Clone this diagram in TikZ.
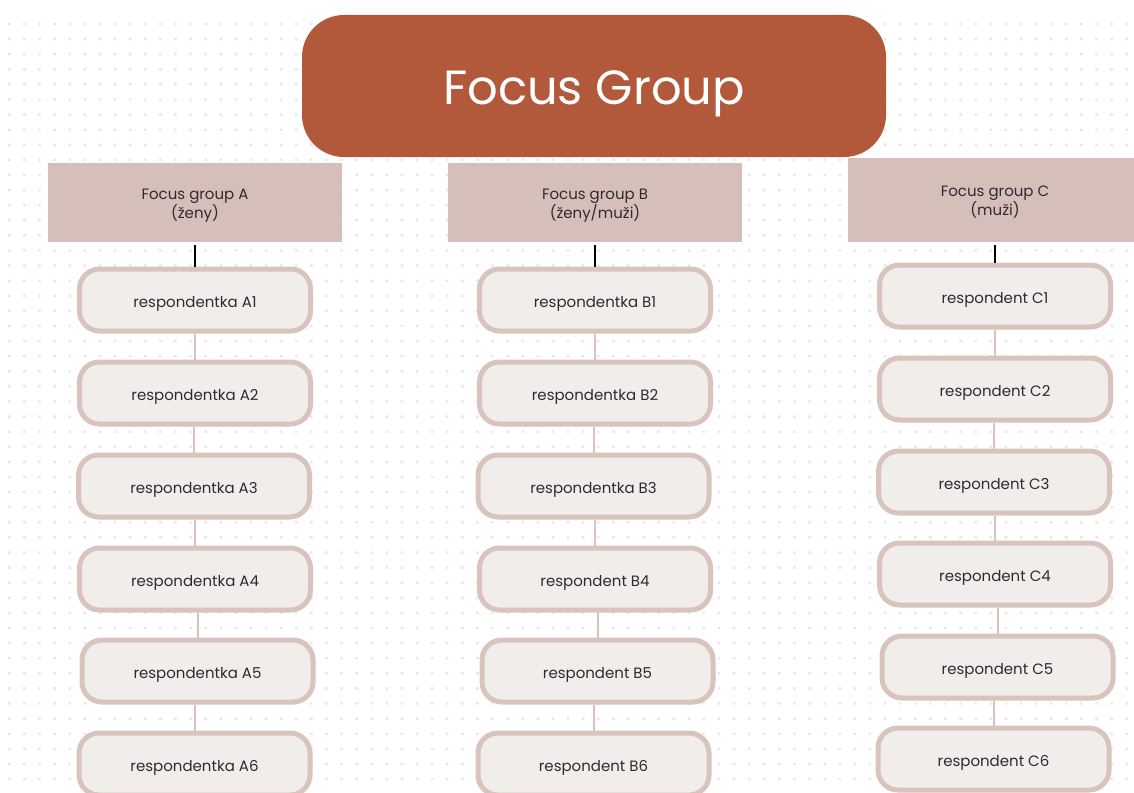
\documentclass[tikz,border=0pt]{standalone}
\usepackage{fontspec}
\setmainfont{Poppins}
\definecolor{titlefill}{HTML}{B2593C}
\definecolor{grpfill}{HTML}{D5BFB8}
\definecolor{respfill}{HTML}{F1EDEA}
\definecolor{respline}{HTML}{D8C4BC}
\definecolor{dotgray}{HTML}{E6E6EC}
\definecolor{ink}{HTML}{2E2A33}
% two-line header text; first baseline sits 3.5pt above the box centre
\newcommand{\grplabel}[2]{\raisebox{0pt}[0pt][7pt]{\begin{tabular}[t]{@{}c@{}}#1\\#2\end{tabular}}}
% one-line respondent text; baseline 7pt below the box centre
\newcommand{\resplabel}[1]{\raisebox{0pt}[14pt][0pt]{#1}}
\begin{document}
\begin{tikzpicture}[x=1pt,y=-1pt,
  titlebox/.style={fill=titlefill, text=white, rounded corners=42pt,
    minimum width=584pt, minimum height=142pt, inner sep=0pt,
    font=\fontsize{48}{56}\selectfont},
  grpbox/.style={fill=grpfill, text=ink, align=center,
    minimum width=294pt, minimum height=79pt, inner sep=0pt,
    font=\fontsize{15}{17.5}\selectfont},
  respbox/.style={draw=respline, line width=5pt, fill=respfill, text=ink,
    rounded corners=20pt, minimum width=231pt, minimum height=62pt,
    inner sep=0pt, font=\fontsize{15}{18}\selectfont},
  headlink/.style={draw=black, line width=2pt},
  resplink/.style={draw=respline, line width=2pt}]
\clip (0,0) rectangle (1134,792);
\fill[white] (0,0) rectangle (1134,792);
% dotted background grid
\fill[dotgray] \foreach \i in {0,...,74} { \foreach \j in {0,...,50}
  { ({8.1+15.1*\i},{22.8+15.1*\j}) rectangle ++(2.4,2.4) } };

% title
\node[titlebox] (title) at (594,86) {\raisebox{0pt}[36pt][0pt]{Focus Group}};

% group headers
\node[grpbox] (gA) at (195,202.5) {\grplabel{Focus group A}{(ženy)}};
\node[grpbox] (gB) at (595,202.5) {\grplabel{Focus group B}{(ženy/muži)}};
\node[grpbox, minimum height=84pt] (gC) at (995,200) {\grplabel{Focus group C}{(muži)}};

% group A
\node[respbox] (A1) at (195,300)   {\resplabel{respondentka A1}};
\node[respbox] (A2) at (195,393)   {\resplabel{respondentka A2}};
\node[respbox] (A3) at (194,486)   {\resplabel{respondentka A3}};
\node[respbox] (A4) at (195,579)   {\resplabel{respondentka A4}};
\node[respbox] (A5) at (197.5,671) {\resplabel{respondentka A5}};
\node[respbox] (A6) at (194.5,764) {\resplabel{respondentka A6}};

% group B
\node[respbox] (B1) at (595,300)   {\resplabel{respondentka B1}};
\node[respbox] (B2) at (595,393)   {\resplabel{respondentka B2}};
\node[respbox] (B3) at (593.5,486) {\resplabel{respondentka B3}};
\node[respbox] (B4) at (595,579)   {\resplabel{respondent B4}};
\node[respbox] (B5) at (597.5,671) {\resplabel{respondent B5}};
\node[respbox] (B6) at (593.5,764) {\resplabel{respondent B6}};

% group C
\node[respbox] (C1) at (995,296)   {\resplabel{respondent C1}};
\node[respbox] (C2) at (995,389)   {\resplabel{respondent C2}};
\node[respbox] (C3) at (994,482)   {\resplabel{respondent C3}};
\node[respbox] (C4) at (995,574)   {\resplabel{respondent C4}};
\node[respbox] (C5) at (997.5,667) {\resplabel{respondent C5}};
\node[respbox] (C6) at (993.5,759) {\resplabel{respondent C6}};

% links from headers to first respondents
\foreach \g in {A,B,C} {
  \draw[headlink] ([yshift=-3pt]g\g.south) -- (\g1.north);
}
% links between consecutive respondents
\foreach \g in {A,B,C} {
  \foreach \a/\b in {1/2,2/3,3/4,4/5,5/6} {
    \draw[resplink] (\g\b.north) -- (\g\b.north |- \g\a.south);
  }
}
\end{tikzpicture}
\end{document}
